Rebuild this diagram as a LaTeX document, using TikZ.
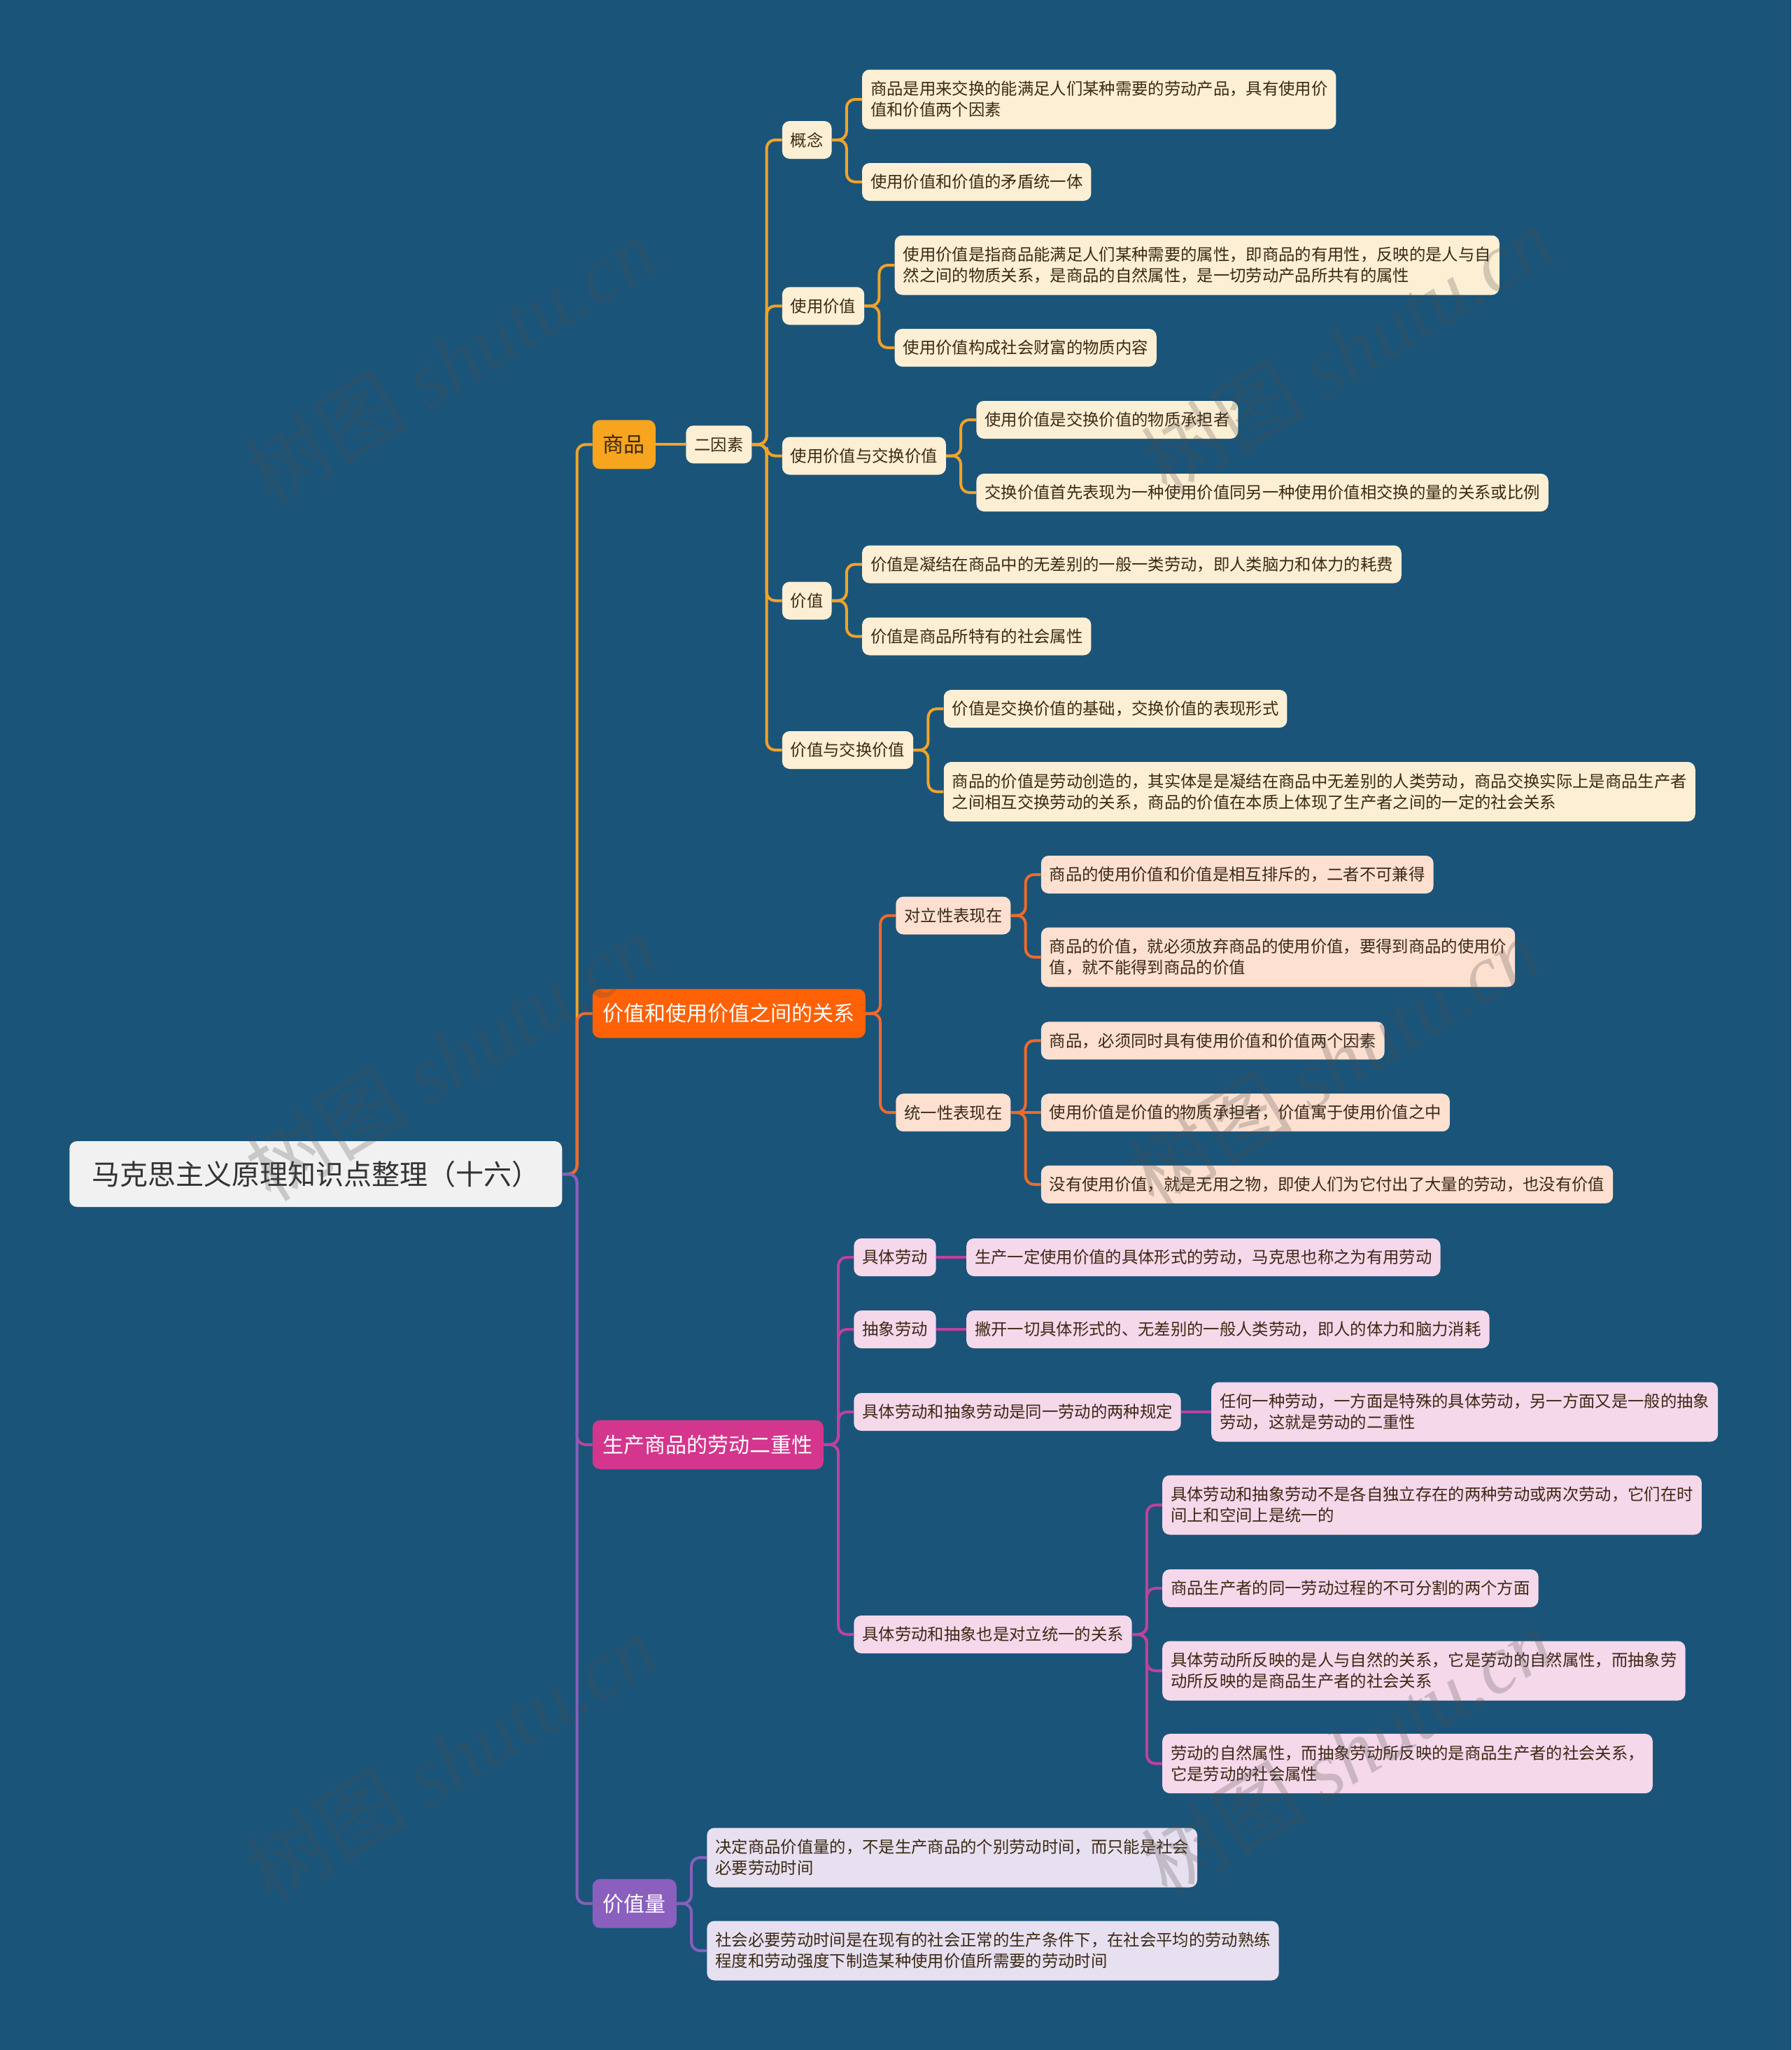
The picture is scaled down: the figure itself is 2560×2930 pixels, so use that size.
\documentclass[tikz,border=0pt]{standalone}
\usepackage{fontspec}
\newfontfamily\cjk{Noto Sans CJK SC}
\newfontfamily\wmserif{Liberation Serif}
\definecolor{bg}{HTML}{1A5479}
\definecolor{rootfill}{HTML}{F1F1F1}
\definecolor{roottext}{HTML}{333333}
\definecolor{lnA}{HTML}{F0A32A}
\definecolor{fillA}{HTML}{F7A41F}
\definecolor{leafA}{HTML}{FDEFD4}
\definecolor{lnB}{HTML}{EE6A2C}
\definecolor{fillB}{HTML}{FF6107}
\definecolor{leafB}{HTML}{FDE0D0}
\definecolor{lnC}{HTML}{BD429B}
\definecolor{fillC}{HTML}{D3368C}
\definecolor{leafC}{HTML}{F5D8EA}
\definecolor{lnD}{HTML}{8660BA}
\definecolor{fillD}{HTML}{8A5FBE}
\definecolor{leafD}{HTML}{E7E0F0}
\definecolor{leaftext}{HTML}{3A2914}
\definecolor{wm}{HTML}{505050}
\newcommand\kid[5]{\node[#1, xshift=32.25pt] (#2) at (#3.east |- 0,#4) {#5};}
\newcommand\lk[3]{\draw[#1] (#2.east) -- ++(21,0) |- (#3.west);}
\newcommand\lks[3]{\draw[#1] (#2.east) -- (#3.west);}
\tikzset{
  box/.style={rounded corners=8pt, inner ysep=0pt, anchor=west, align=left},
  leaf/.style={box, inner xsep=9pt, minimum height=40.5pt,
    font=\cjk\fontsize{17.5pt}{22.5pt}\selectfont, text=leaftext},
  two/.style={minimum height=63.75pt},
  mainbox/.style={box, inner xsep=11.25pt, minimum height=52.5pt,
    font=\cjk\fontsize{22.5pt}{27pt}\selectfont},
  rootbox/.style={box, fill=rootfill, inner xsep=24pt, minimum height=70.5pt,
    font=\cjk\fontsize{30pt}{36pt}\selectfont, text=roottext},
  conn/.style={line width=3pt, rounded corners=9pt},
  cA/.style={conn, draw=lnA}, cB/.style={conn, draw=lnB},
  cC/.style={conn, draw=lnC}, cD/.style={conn, draw=lnD},
  lA/.style={leaf, fill=leafA}, lB/.style={leaf, fill=leafB},
  lC/.style={leaf, fill=leafC}, lD/.style={leaf, fill=leafD},
  wmark/.style={rotate=31.5, text=wm, opacity=0.25, font=\cjk\fontsize{88pt}{96pt}\selectfont}
}
\begin{document}
\begin{tikzpicture}[x=0.75pt, y=-0.75pt]
\fill[bg] (0,0) rectangle (2560,2930);
\path[use as bounding box] (0,0) rectangle (2560,2930);

% root
\node[rootbox] (R) at (99,1678) {马克思主义原理知识点整理（十六）};

% level 1
\kid{mainbox, fill=fillA, text=leaftext}{A}{R}{635.3}{商品}
\kid{mainbox, fill=fillB, text=white}{B}{R}{1448.5}{价值和使用价值之间的关系}
\kid{mainbox, fill=fillC, text=white}{C}{R}{2064.8}{生产商品的劳动二重性}
\kid{mainbox, fill=fillD, text=white}{D}{R}{2720.7}{价值量}

% A subtree
\kid{lA}{A1}{A}{635.3}{二因素}
\kid{lA}{A1a}{A1}{200}{概念}
\kid{lA}{A1b}{A1}{437.3}{使用价值}
\kid{lA}{A1c}{A1}{651.5}{使用价值与交换价值}
\kid{lA}{A1d}{A1}{858.5}{价值}
\kid{lA}{A1e}{A1}{1072}{价值与交换价值}
\kid{lA, two}{A1a1}{A1a}{142}{商品是用来交换的能满足人们某种需要的劳动产品，具有使用价\\值和价值两个因素}
\kid{lA}{A1a2}{A1a}{260}{使用价值和价值的矛盾统一体}
\kid{lA, two}{A1b1}{A1b}{379}{使用价值是指商品能满足人们某种需要的属性，即商品的有用性，反映的是人与自\\然之间的物质关系，是商品的自然属性，是一切劳动产品所共有的属性}
\kid{lA}{A1b2}{A1b}{497}{使用价值构成社会财富的物质内容}
\kid{lA}{A1c1}{A1c}{600}{使用价值是交换价值的物质承担者}
\kid{lA}{A1c2}{A1c}{704}{交换价值首先表现为一种使用价值同另一种使用价值相交换的量的关系或比例}
\kid{lA}{A1d1}{A1d}{806.5}{价值是凝结在商品中的无差别的一般一类劳动，即人类脑力和体力的耗费}
\kid{lA}{A1d2}{A1d}{909.5}{价值是商品所特有的社会属性}
\kid{lA}{A1e1}{A1e}{1013}{价值是交换价值的基础，交换价值的表现形式}
\kid{lA, two}{A1e2}{A1e}{1131.5}{商品的价值是劳动创造的，其实体是是凝结在商品中无差别的人类劳动，商品交换实际上是商品生产者\\之间相互交换劳动的关系，商品的价值在本质上体现了生产者之间的一定的社会关系}

% B subtree
\kid{lB}{B1}{B}{1308.5}{对立性表现在}
\kid{lB}{B2}{B}{1590.2}{统一性表现在}
\kid{lB}{B1a}{B1}{1250}{商品的使用价值和价值是相互排斥的，二者不可兼得}
\kid{lB, two}{B1b}{B1}{1368}{商品的价值，就必须放弃商品的使用价值，要得到商品的使用价\\值，就不能得到商品的价值}
\kid{lB}{B2a}{B2}{1487.4}{商品，必须同时具有使用价值和价值两个因素}
\kid{lB}{B2b}{B2}{1590.2}{使用价值是价值的物质承担者，价值寓于使用价值之中}
\kid{lB}{B2c}{B2}{1692.9}{没有使用价值，就是无用之物，即使人们为它付出了大量的劳动，也没有价值}

% C subtree
\kid{lC}{C1}{C}{1797}{具体劳动}
\kid{lC}{C2}{C}{1900}{抽象劳动}
\kid{lC}{C3}{C}{2018}{具体劳动和抽象劳动是同一劳动的两种规定}
\kid{lC}{C4}{C}{2336}{具体劳动和抽象也是对立统一的关系}
\kid{lC}{C1a}{C1}{1797}{生产一定使用价值的具体形式的劳动，马克思也称之为有用劳动}
\kid{lC}{C2a}{C2}{1900}{撇开一切具体形式的、无差别的一般人类劳动，即人的体力和脑力消耗}
\kid{lC, two}{C3a}{C3}{2018}{任何一种劳动，一方面是特殊的具体劳动，另一方面又是一般的抽象\\劳动，这就是劳动的二重性}
\kid{lC, two}{C4a}{C4}{2151}{具体劳动和抽象劳动不是各自独立存在的两种劳动或两次劳动，它们在时\\间上和空间上是统一的}
\kid{lC}{C4b}{C4}{2270}{商品生产者的同一劳动过程的不可分割的两个方面}
\kid{lC, two}{C4c}{C4}{2388}{具体劳动所反映的是人与自然的关系，它是劳动的自然属性，而抽象劳\\动所反映的是商品生产者的社会关系}
\kid{lC, two}{C4d}{C4}{2520.6}{劳动的自然属性，而抽象劳动所反映的是商品生产者的社会关系，\\它是劳动的社会属性}

% D subtree
\kid{lD, two}{D1}{D}{2655}{决定商品价值量的，不是生产商品的个别劳动时间，而只能是社会\\必要劳动时间}
\kid{lD, two}{D2}{D}{2788}{社会必要劳动时间是在现有的社会正常的生产条件下，在社会平均的劳动熟练\\程度和劳动强度下制造某种使用价值所需要的劳动时间}

% connectors
\lk{cA}{R}{A}
\lk{cB}{R}{B}
\lk{cC}{R}{C}
\lk{cD}{R}{D}

\lks{cA}{A}{A1}
\foreach \k in {A1a,A1b,A1c,A1d,A1e} {\lk{cA}{A1}{\k}}
\lk{cA}{A1a}{A1a1} \lk{cA}{A1a}{A1a2}
\lk{cA}{A1b}{A1b1} \lk{cA}{A1b}{A1b2}
\lk{cA}{A1c}{A1c1} \lk{cA}{A1c}{A1c2}
\lk{cA}{A1d}{A1d1} \lk{cA}{A1d}{A1d2}
\lk{cA}{A1e}{A1e1} \lk{cA}{A1e}{A1e2}

\lk{cB}{B}{B1} \lk{cB}{B}{B2}
\lk{cB}{B1}{B1a} \lk{cB}{B1}{B1b}
\lk{cB}{B2}{B2a} \lks{cB}{B2}{B2b} \lk{cB}{B2}{B2c}

\lk{cC}{C}{C1} \lk{cC}{C}{C2} \lk{cC}{C}{C3} \lk{cC}{C}{C4}
\lks{cC}{C1}{C1a} \lks{cC}{C2}{C2a} \lks{cC}{C3}{C3a}
\lk{cC}{C4}{C4a} \lk{cC}{C4}{C4b} \lk{cC}{C4}{C4c} \lk{cC}{C4}{C4d}

\lk{cD}{D}{D1} \lk{cD}{D}{D2}

% watermarks
\node[wmark] (w1) at (644,516) {树图 {\wmserif\itshape shutu.cn}};
\node[wmark] (w2) at (1925,500) {树图 {\wmserif\itshape shutu.cn}};
\node[wmark] (w3) at (644,1510) {树图 {\wmserif\itshape shutu.cn}};
\node[wmark] (w4) at (1906,1517) {树图 {\wmserif\itshape shutu.cn}};
\node[wmark] (w5) at (644,2513) {树图 {\wmserif\itshape shutu.cn}};
\node[wmark] (w6) at (1925,2504) {树图 {\wmserif\itshape shutu.cn}};
\end{tikzpicture}
\end{document}
